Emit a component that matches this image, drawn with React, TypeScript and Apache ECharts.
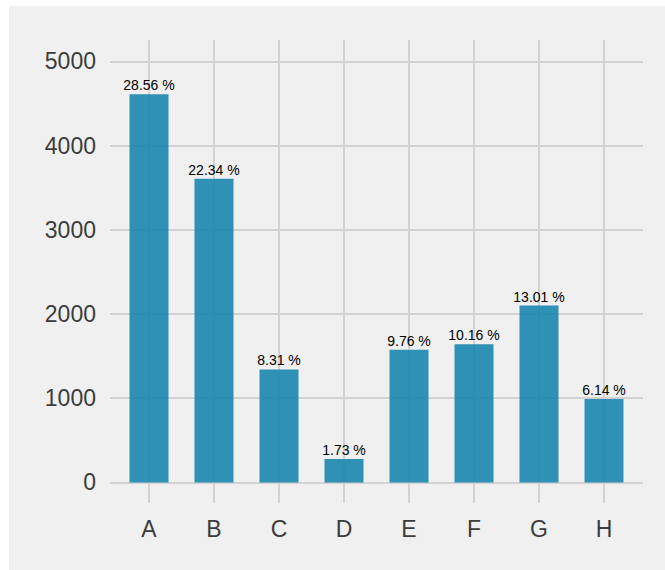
import React, { useEffect, useRef } from "react";
import * as echarts from "echarts";

const categories = ["A", "B", "C", "D", "E", "F", "G", "H"];
const values = [4610, 3606, 1341, 279, 1575, 1640, 2100, 991];

const total = values.reduce((a, b) => a + b, 0);
const percentLabels = values.map((v) => ((v / total) * 100).toFixed(2) + " %");

export default function App() {
  const ref = useRef<HTMLDivElement>(null);
  useEffect(() => {
    if (!ref.current) return;
    const chart = echarts.init(ref.current, undefined, { renderer: "svg" });
    const grid = "#d2d2d2";
    chart.setOption({
      animation: false,
      backgroundColor: "#f0f0f0",
      textStyle: { fontFamily: "Liberation Sans, Arial, sans-serif" },
      grid: { left: 101, right: 22, top: 34, bottom: 67, containLabel: false },
      xAxis: {
        type: "value",
        min: -0.6,
        max: 7.6,
        minInterval: 1,
        maxInterval: 1,
        splitNumber: 8,
        axisLine: { show: false },
        axisTick: { show: false },
        splitLine: {
          show: true,
          showMinLine: false,
          showMaxLine: false,
          lineStyle: { color: grid, width: 2 },
        },
        axisLabel: {
          show: true,
          showMinLabel: false,
          showMaxLabel: false,
          fontSize: 23,
          color: "#3c3c3c",
          margin: 14,
          formatter: (v: number) => {
            const r = Math.round(v);
            return Math.abs(v - r) < 1e-6 && categories[r] ? categories[r] : "";
          },
        },
      },
      yAxis: {
        type: "value",
        min: -245,
        max: 5255,
        minInterval: 1000,
        maxInterval: 1000,
        axisLine: { show: false },
        axisTick: { show: false },
        splitLine: {
          show: true,
          showMinLine: false,
          showMaxLine: false,
          lineStyle: { color: grid, width: 2 },
        },
        axisLabel: {
          show: true,
          showMinLabel: false,
          showMaxLabel: false,
          fontSize: 23,
          color: "#3c3c3c",
          margin: 14,
          formatter: (v: number) => (v >= 0 && v % 1000 === 0 ? String(v) : ""),
        },
      },
      series: [
        {
          type: "bar",
          data: values.map((v, i) => [i, v]),
          barWidth: 39,
          itemStyle: { color: "rgba(24,134,174,0.9)" },
          label: {
            show: true,
            position: "top",
            distance: 2,
            fontSize: 14,
            color: "#000",
            formatter: (p: any) => percentLabels[p.dataIndex],
          },
        },
      ],
    });
    return () => chart.dispose();
  }, []);
  return (
    <div
      ref={ref}
      style={{ position: "absolute", left: 9, top: 6, width: 656, height: 564 }}
    />
  );
}
